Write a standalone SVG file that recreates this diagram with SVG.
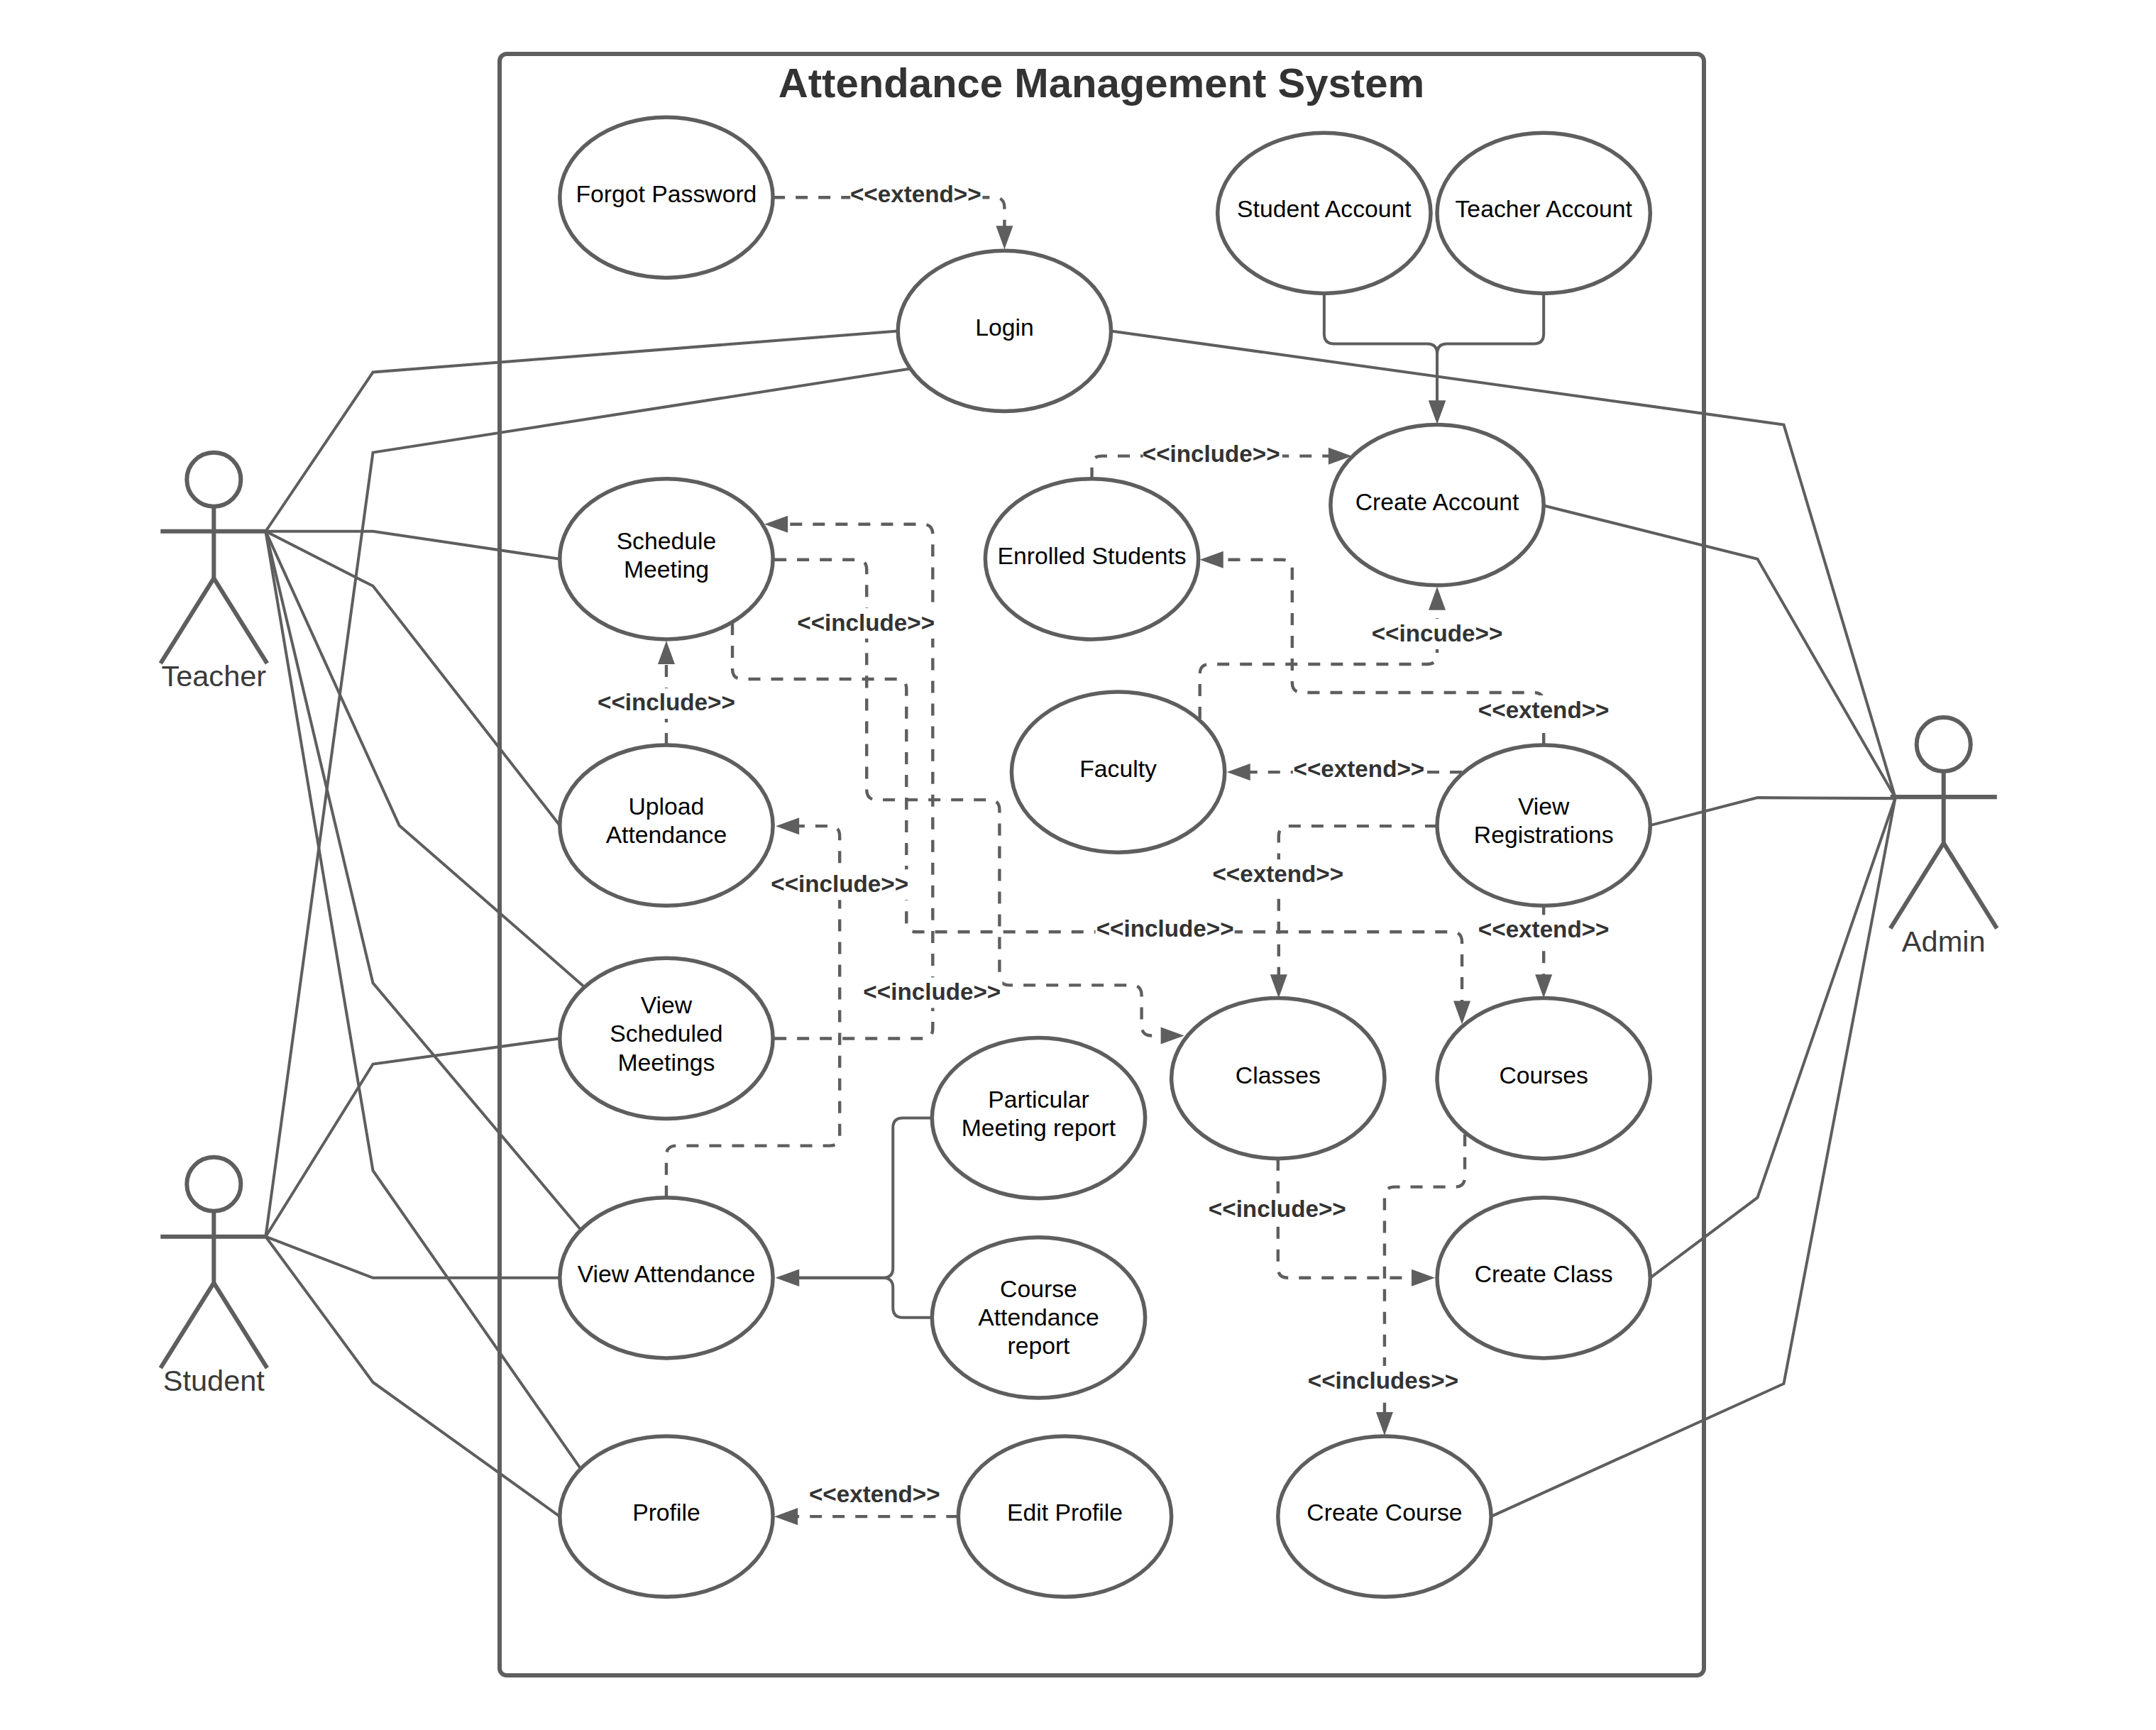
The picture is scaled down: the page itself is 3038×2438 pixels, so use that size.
<svg xmlns="http://www.w3.org/2000/svg" width="3038" height="2438" viewBox="0 0 3038 2438">
<style>
.bg{fill:#fff}
.frame{fill:none;stroke:#5e5e5e;stroke-width:6}
.uc ellipse{fill:#fff;stroke:#5e5e5e;stroke-width:5.5}
.uc text{font:33.7px "Liberation Sans",Arial,sans-serif;fill:#000;text-anchor:middle}
.actor path,.actor circle{fill:none;stroke:#5e5e5e;stroke-width:6}
.actor text{font:41.5px "Liberation Sans",Arial,sans-serif;fill:#3a3a3a;text-anchor:middle}
.title{font:bold 58.1px "Liberation Sans",Arial,sans-serif;fill:#333;text-anchor:middle}
.s{fill:none;stroke:#5e5e5e;stroke-width:4}
.d{fill:none;stroke:#5e5e5e;stroke-width:4.4;stroke-dasharray:17 15}
.a{marker-end:url(#arr)}
.lb rect{fill:#fff}
.lb text{font:bold 33.2px "Liberation Sans",Arial,sans-serif;fill:#333;text-anchor:middle}
</style>
<defs>
<marker id="arr" markerUnits="userSpaceOnUse" markerWidth="36" markerHeight="28" refX="9" refY="13" orient="auto" overflow="visible"><path d="M0 1L33 13L0 25Z" fill="#5e5e5e"/></marker>
</defs>
<rect class="bg" width="3038" height="2438"/>
<rect class="frame" x="704" y="76" width="1697" height="2285" rx="10"/>
<text class="title" x="1552" y="137">Attendance Management System</text>
<g id="diagram" transform="scale(1.001 1.001)">
<g id="connectors">
<path class="s" d="M374 748L525 524L1264 466"/>
<path class="s" d="M374 1741L525 637L1282 519"/>
<path class="s" d="M374 748L525 748L788 787"/>
<path class="s" d="M374 748L525 825L788 1162"/>
<path class="s" d="M374 748L562 1162L821 1388"/>
<path class="s" d="M374 748L525 1384L819 1733"/>
<path class="s" d="M374 748L525 1648L819 2070"/>
<path class="s" d="M374 1741L525 1498L788 1462"/>
<path class="s" d="M374 1741L525 1799L788 1799"/>
<path class="s" d="M374 1741L525 1946L788 2135"/>
<path class="s" d="M1564 466L2511 598L2668 1123"/>
<path class="s" d="M2174 712L2474 787L2668 1123"/>
<path class="s" d="M2323 1162L2474 1123L2668 1124"/>
<path class="s" d="M2323 1799L2474 1686L2668 1123"/>
<path class="s" d="M2099 2135L2511 1948L2668 1123"/>
<path class="s a" d="M1864 413V470Q1864 484 1878 484H2009Q2023 484 2023 498V573"/>
<path class="s a" d="M2173 413V470Q2173 484 2159 484H2037Q2023 484 2023 498V573"/>
<path class="s a" d="M1312 1574H1271Q1257 1574 1257 1588V1785Q1257 1799 1243 1799H1116"/>
<path class="s a" d="M1312 1855H1271Q1257 1855 1257 1841V1813Q1257 1799 1243 1799H1116"/>
<path class="d a" d="M1088 278H1400Q1414 278 1414 292V327"/>
<path class="d a" d="M1537 675V656Q1537 642 1551 642H1879"/>
<path class="d a" d="M1090 1462H1299Q1313 1462 1313 1448V752Q1313 738 1299 738H1100"/>
<path class="d a" d="M1090 788H1206Q1220 788 1220 802V1112Q1220 1126 1234 1126H1393Q1407 1126 1407 1140V1373Q1407 1387 1421 1387H1593Q1607 1387 1607 1401V1444Q1607 1458 1621 1458H1643"/>
<path class="d a" d="M1031 877V942Q1031 956 1045 956H1262Q1276 956 1276 970V1298Q1276 1312 1290 1312H2044Q2058 1312 2058 1326V1418"/>
<path class="d a" d="M938 1686V1627Q938 1613 952 1613H1168Q1182 1613 1182 1599V1177Q1182 1163 1168 1163H1116"/>
<path class="d a" d="M938 1049V926"/>
<path class="d a" d="M1689 1012V949Q1689 935 1703 935H2009Q2023 935 2023 921V850"/>
<path class="d a" d="M2173 1049V989Q2173 975 2159 975H1833Q1819 975 1819 961V802Q1819 788 1805 788H1713"/>
<path class="d a" d="M2058 1087H1751"/>
<path class="d a" d="M2023 1163H1814Q1800 1163 1800 1177V1381"/>
<path class="d a" d="M2173 1275V1381"/>
<path class="d a" d="M2062 1597V1657Q2062 1671 2048 1671H1963Q1949 1671 1949 1685V1997"/>
<path class="d a" d="M1799 1631V1785Q1799 1799 1813 1799H1996"/>
<path class="d a" d="M1349 2135H1114"/>
<g class="lb">
<rect x="1197" y="253" width="186" height="43"/><text x="1289" y="285">&lt;&lt;extend&gt;&gt;</text>
<rect x="1609" y="619" width="196" height="43"/><text x="1705" y="650">&lt;&lt;include&gt;&gt;</text>
<rect x="1122" y="856" width="196" height="43"/><text x="1219" y="888">&lt;&lt;include&gt;&gt;</text>
<rect x="841" y="969" width="196" height="43"/><text x="938" y="1000">&lt;&lt;include&gt;&gt;</text>
<rect x="1932" y="871" width="182" height="43"/><text x="2023" y="903">&lt;&lt;incude&gt;&gt;</text>
<rect x="2081" y="979" width="186" height="43"/><text x="2173" y="1011">&lt;&lt;extend&gt;&gt;</text>
<rect x="1820" y="1062" width="186" height="43"/><text x="1913" y="1094">&lt;&lt;extend&gt;&gt;</text>
<rect x="1707" y="1210" width="186" height="43"/><text x="1799" y="1242">&lt;&lt;extend&gt;&gt;</text>
<rect x="1084" y="1224" width="196" height="43"/><text x="1182" y="1256">&lt;&lt;include&gt;&gt;</text>
<rect x="2081" y="1288" width="186" height="43"/><text x="2173" y="1320">&lt;&lt;extend&gt;&gt;</text>
<rect x="1542" y="1287" width="196" height="43"/><text x="1640" y="1319">&lt;&lt;include&gt;&gt;</text>
<rect x="1215" y="1376" width="196" height="43"/><text x="1312" y="1408">&lt;&lt;include&gt;&gt;</text>
<rect x="1701" y="1681" width="196" height="43"/><text x="1798" y="1713">&lt;&lt;include&gt;&gt;</text>
<rect x="1840" y="1923" width="216" height="43"/><text x="1947" y="1955">&lt;&lt;includes&gt;&gt;</text>
<rect x="1139" y="2083" width="186" height="43"/><text x="1231" y="2115">&lt;&lt;extend&gt;&gt;</text>
</g>
</g>
<g id="teacher" class="actor"><circle cx="301" cy="675" r="38"/><path d="M301 713V814L226 934M301 814L376 934M226 748H376"/><text x="301" y="966">Teacher</text></g>
<g id="student" class="actor"><circle cx="301" cy="1667" r="38"/><path d="M301 1705V1806L226 1926M301 1806L376 1926M226 1741H376"/><text x="301" y="1958">Student</text></g>
<g id="admin" class="actor"><circle cx="2736" cy="1048" r="38"/><path d="M2736 1086V1187L2661 1307M2736 1187L2811 1307M2661 1122H2811"/><text x="2736" y="1340">Admin</text></g>
<g id="forgot" class="uc"><ellipse cx="938" cy="278" rx="150" ry="113"/><text x="938" y="285">Forgot Password</text></g>
<g id="login" class="uc"><ellipse cx="1414" cy="466" rx="150" ry="113"/><text x="1414" y="473">Login</text></g>
<g id="student-account" class="uc"><ellipse cx="1864" cy="300" rx="150" ry="113"/><text x="1864" y="306">Student Account</text></g>
<g id="teacher-account" class="uc"><ellipse cx="2173" cy="300" rx="150" ry="113"/><text x="2173" y="306">Teacher Account</text></g>
<g id="create-account" class="uc"><ellipse cx="2023" cy="711" rx="150" ry="113"/><text x="2023" y="718">Create Account</text></g>
<g id="schedule" class="uc"><ellipse cx="938" cy="787" rx="150" ry="113"/><text x="938" y="773">Schedule</text><text x="938" y="813">Meeting</text></g>
<g id="enrolled" class="uc"><ellipse cx="1537" cy="787" rx="150" ry="113"/><text x="1537" y="794">Enrolled Students</text></g>
<g id="faculty" class="uc"><ellipse cx="1574" cy="1087" rx="150" ry="113"/><text x="1574" y="1094">Faculty</text></g>
<g id="upload" class="uc"><ellipse cx="938" cy="1162" rx="150" ry="113"/><text x="938" y="1147">Upload</text><text x="938" y="1187">Attendance</text></g>
<g id="view-reg" class="uc"><ellipse cx="2173" cy="1162" rx="150" ry="113"/><text x="2173" y="1147">View</text><text x="2173" y="1187">Registrations</text></g>
<g id="view-sched" class="uc"><ellipse cx="938" cy="1462" rx="150" ry="113"/><text x="938" y="1427">View</text><text x="938" y="1467">Scheduled</text><text x="938" y="1507">Meetings</text></g>
<g id="particular" class="uc"><ellipse cx="1462" cy="1574" rx="150" ry="113"/><text x="1462" y="1559">Particular</text><text x="1462" y="1599">Meeting report</text></g>
<g id="classes" class="uc"><ellipse cx="1799" cy="1518" rx="150" ry="113"/><text x="1799" y="1525">Classes</text></g>
<g id="courses" class="uc"><ellipse cx="2173" cy="1518" rx="150" ry="113"/><text x="2173" y="1525">Courses</text></g>
<g id="view-att" class="uc"><ellipse cx="938" cy="1799" rx="150" ry="113"/><text x="938" y="1805">View Attendance</text></g>
<g id="course-att" class="uc"><ellipse cx="1462" cy="1855" rx="150" ry="113"/><text x="1462" y="1826">Course</text><text x="1462" y="1866">Attendance</text><text x="1462" y="1906">report</text></g>
<g id="create-class" class="uc"><ellipse cx="2173" cy="1799" rx="150" ry="113"/><text x="2173" y="1805">Create Class</text></g>
<g id="profile" class="uc"><ellipse cx="938" cy="2135" rx="150" ry="113"/><text x="938" y="2141">Profile</text></g>
<g id="edit-profile" class="uc"><ellipse cx="1499" cy="2135" rx="150" ry="113"/><text x="1499" y="2141">Edit Profile</text></g>
<g id="create-course" class="uc"><ellipse cx="1949" cy="2135" rx="150" ry="113"/><text x="1949" y="2141">Create Course</text></g>
</g>
</svg>
